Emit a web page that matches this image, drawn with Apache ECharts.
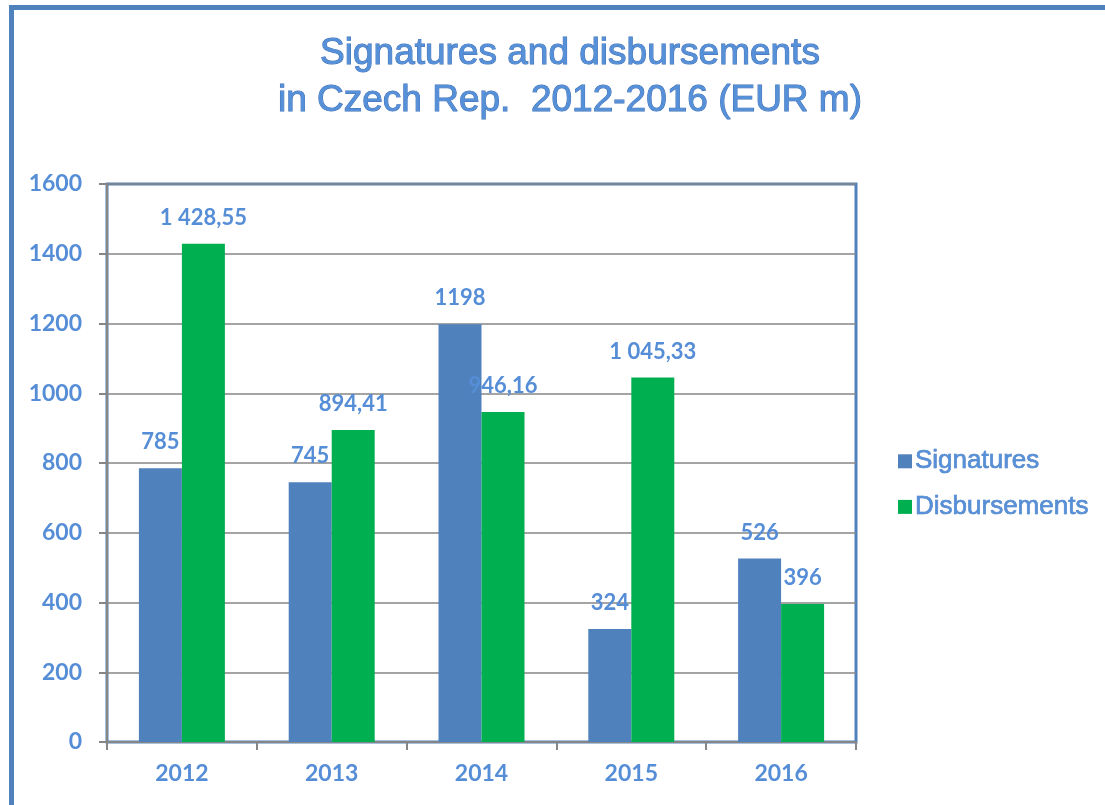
<!DOCTYPE html>
<html>
<head>
<meta charset="utf-8">
<script src="https://cdn.jsdelivr.net/npm/echarts@6/dist/echarts.min.js"></script>
<style>html,body{margin:0;padding:0;background:#fff}#c{width:1105px;height:805px}</style>
</head>
<body>
<div id="c"></div>
<script>
const titleLines = ['Signatures and disbursements', 'in Czech Rep.  2012-2016 (EUR m)'];
const categories = ['2012', '2013', '2014', '2015', '2016'];
const seriesNames = ['Signatures', 'Disbursements'];
const signatures = [785, 745, 1198, 324, 526];
const disbursements = [1428.55, 894.41, 946.16, 1045.33, 396];
const yTicks = [0, 200, 400, 600, 800, 1000, 1200, 1400, 1600];

const BLUE = '#4F81BD', GREEN = '#00B050', TXT = '#558DD6', GRAY = '#868686';

function fmt(v) {
  if (Number.isInteger(v)) return String(v);
  const parts = v.toFixed(2).split('.');
  const intPart = parts[0].replace(/\B(?=(\d{3})+(?!\d))/g, ' ');
  return intPart + ',' + parts[1];
}

const chart = echarts.init(document.getElementById('c'), null, {renderer: 'canvas'});
const labelStyle = {
  show: true, position: 'top', distance: 15,
  color: TXT, fontFamily: 'Lato', fontWeight: 'bold', fontSize: 22,
  formatter: p => fmt(p.value)
};
const axisFont = {color: TXT, fontFamily: 'Lato', fontWeight: 'bold', fontSize: 23};
chart.setOption({
  animation: false,
  backgroundColor: '#fff',
  title: {
    text: titleLines.join('\n'),
    left: 565, top: 25, textAlign: 'center',
    textStyle: {fontFamily: 'Liberation Sans', fontSize: 37, fontWeight: 'normal', color: '#5590D8',
      textBorderColor: '#3F6FB5', textBorderWidth: 1, lineHeight: 47}
  },
  graphic: [{
    type: 'rect', z: 100,
    shape: {x: 11.5, y: 7.5, width: 1200, height: 900},
    style: {fill: 'none', stroke: BLUE, lineWidth: 5}
  }],
  legend: {
    orient: 'vertical', left: 893, top: 443,
    itemWidth: 14, itemHeight: 14, itemGap: 19,
    icon: 'rect',
    textStyle: {fontFamily: 'Liberation Sans', fontSize: 26, color: '#5590D8',
      textBorderColor: '#3F6FB5', textBorderWidth: 0.6, lineHeight: 26, padding: [0, 0, 0, -2]},
    data: seriesNames
  },
  grid: {
    left: 107, top: 184, right: 249, bottom: 63,
    show: true, borderColor: BLUE, borderWidth: 3, backgroundColor: '#fff'
  },
  xAxis: {
    type: 'category', data: categories,
    axisLine: {lineStyle: {color: GRAY, width: 2}},
    axisTick: {show: true, length: 8, lineStyle: {color: GRAY, width: 2}},
    axisLabel: Object.assign({margin: 20}, axisFont)
  },
  yAxis: {
    type: 'value', min: yTicks[0], max: yTicks[yTicks.length - 1], interval: yTicks[1] - yTicks[0],
    axisLine: {show: true, lineStyle: {color: GRAY, width: 2}},
    axisTick: {show: true, length: 8, lineStyle: {color: GRAY, width: 2}},
    splitLine: {lineStyle: {color: GRAY, width: 1.5}},
    axisLabel: Object.assign({margin: 25, formatter: v => String(v)}, axisFont)
  },
  series: [
    {name: seriesNames[0], type: 'bar', data: signatures, barWidth: 43, barGap: '0%',
     itemStyle: {color: BLUE}, label: labelStyle},
    {name: seriesNames[1], type: 'bar', data: disbursements, barWidth: 43, barGap: '0%',
     itemStyle: {color: GREEN}, label: labelStyle}
  ]
});
</script>
</body>
</html>
